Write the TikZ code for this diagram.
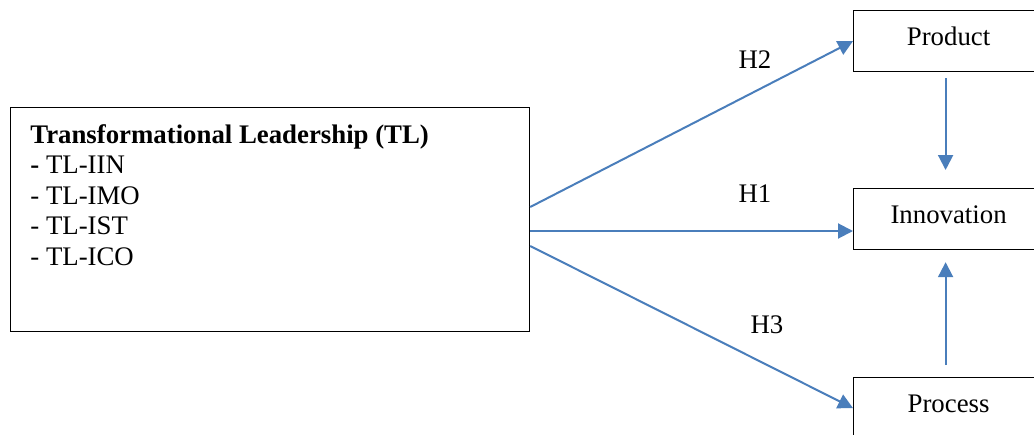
\documentclass[tikz,border=0pt]{standalone}
\usepackage{fontspec}
\setmainfont{Liberation Serif}
\usetikzlibrary{arrows.meta,positioning,calc}
\definecolor{arBlue}{HTML}{4A7EBB}
\tikzset{
  box/.style   ={draw=black,line width=0.6pt,inner sep=0pt,
                 font=\fontsize{13.4}{15.25}\selectfont},
  varbox/.style={box,minimum width=95pt,minimum height=30.5pt,anchor=north west,
                 text height=9pt,text depth=4.5pt},
  itemtxt/.style={inner sep=0pt,align=left,anchor=north west,
                 font=\fontsize{13.4}{15.25}\selectfont},
  flow/.style  ={-{Triangle[length=7.5pt,width=7.5pt]},arBlue,line width=1pt},
  lbl/.style   ={inner sep=0pt,font=\fontsize{13.4}{15.25}\selectfont},
}
\begin{document}
\begin{tikzpicture}[x=0.5pt,y=-0.5pt]
\path[use as bounding box] (0,0) rectangle (1034,434);
\clip (0,0) rectangle (1034,434);

% left construct
\node[box,minimum width=259.5pt,minimum height=112pt,anchor=north west] (tl) at (10,107) {};
\node[itemtxt] (tltext) at (30,124)
  {\textbf{Transformational Leadership (TL)}\\
   \textbf{-} TL-IIN\\
   - TL-IMO\\
   - TL-IST\\
   - TL-ICO};

% right side
\node[varbox] (product)    at (853,10)  {Product};
\node[varbox] (innovation) at (853,188) {Innovation};
\node[varbox] (process)    at (853,377) {Process};

% hypotheses
\coordinate (h2s) at ($(tl.north east)+(0,100)$);
\coordinate (h1s) at ($(tl.north east)+(0,124)$);
\coordinate (h3s) at ($(tl.north east)+(0,139)$);
\draw[flow] (h2s) -- (product.west);
\draw[flow] (h1s) -- (h1s -| innovation.west);
\draw[flow] (h3s) -- (process.west);
\node[lbl] (h2) at (755,60)  {H2};
\node[lbl] (h1) at (755,194) {H1};
\node[lbl] (h3) at (767,325) {H3};

\draw[flow,shorten <=3pt,shorten >=9pt] ([xshift=-1.5pt]product.south) -- ([xshift=-1.5pt]innovation.north);
\draw[flow,shorten <=6pt,shorten >=6pt] ([xshift=-1.5pt]process.north) -- ([xshift=-1.5pt]innovation.south);
\end{tikzpicture}
\end{document}
